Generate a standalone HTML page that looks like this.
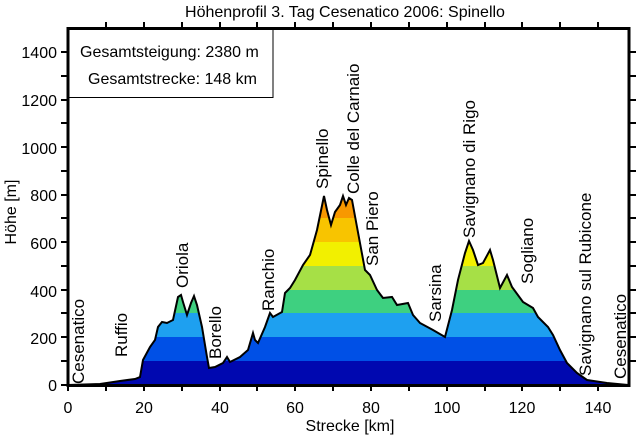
<!DOCTYPE html>
<html><head><meta charset="utf-8"><style>body{margin:0;background:#fff}svg{display:block}text{font-family:"Liberation Sans",Arial,sans-serif;fill:#000}</style></head><body>
<svg width="640" height="437" viewBox="0 0 640 437">
<defs><clipPath id="c"><polygon points="68,385 100,384 120,381 135,379 140,377 143,360 150,347 155,340 158,327 162,322 167,323 173,320 178,297 181,295 183,302 187,315 191,303 194,296 197,305 202,327 207,357 209,368 215,367 223,363 227,357 230,362 240,357 248,350 253,333 255,340 258,343 265,327 270,313 273,317 282,312 285,293 290,288 295,280 303,265 310,255 317,230 324,196 327,210 331,225 335,212 340,205 343,196 346,205 349,198 352,200 357,227 365,270 370,275 377,290 383,298 392,297 397,305 408,303 413,315 420,323 433,330 445,337 452,310 458,280 465,253 469,241 473,250 478,265 483,263 490,250 493,260 500,288 507,275 512,287 523,302 533,308 538,317 548,327 553,335 560,350 567,363 577,373 587,380 607,383 628,385"/></clipPath></defs>
<g clip-path="url(#c)">
<rect x="68" y="361" width="561" height="25" fill="#0008b0"/>
<rect x="68" y="337" width="561" height="24" fill="#0050e6"/>
<rect x="68" y="313" width="561" height="24" fill="#1ea0f0"/>
<rect x="68" y="290" width="561" height="23" fill="#3ed080"/>
<rect x="68" y="266" width="561" height="24" fill="#a6e046"/>
<rect x="68" y="242" width="561" height="24" fill="#f2f000"/>
<rect x="68" y="218" width="561" height="24" fill="#f8c400"/>
<rect x="68" y="180" width="561" height="38" fill="#f89800"/>
</g>
<polyline points="68,385 100,384 120,381 135,379 140,377 143,360 150,347 155,340 158,327 162,322 167,323 173,320 178,297 181,295 183,302 187,315 191,303 194,296 197,305 202,327 207,357 209,368 215,367 223,363 227,357 230,362 240,357 248,350 253,333 255,340 258,343 265,327 270,313 273,317 282,312 285,293 290,288 295,280 303,265 310,255 317,230 324,196 327,210 331,225 335,212 340,205 343,196 346,205 349,198 352,200 357,227 365,270 370,275 377,290 383,298 392,297 397,305 408,303 413,315 420,323 433,330 445,337 452,310 458,280 465,253 469,241 473,250 478,265 483,263 490,250 493,260 500,288 507,275 512,287 523,302 533,308 538,317 548,327 553,335 560,350 567,363 577,373 587,380 607,383 628,385" fill="none" stroke="#000" stroke-width="2"/>
<rect x="68" y="28.5" width="205" height="69" fill="#fff" stroke="#000" stroke-width="1"/>
<text x="80" y="57" font-size="16">Gesamtsteigung: 2380 m</text>
<text x="88" y="84" font-size="16">Gesamtstrecke: 148 km</text>
<rect x="68" y="28.5" width="561" height="357" fill="none" stroke="#000" stroke-width="3"/>
<g stroke="#000" stroke-width="2">
<path d="M68,385v6M106,385v6M144,385v6M182,385v6M220,385v6M257,385v6M295,385v6M333,385v6M371,385v6M409,385v6M447,385v6M485,385v6M522,385v6M560,385v6M598,385v6"/>
<path d="M106,28v-6M144,28v-6M182,28v-6M220,28v-6M257,28v-6M295,28v-6M333,28v-6M371,28v-6M409,28v-6M447,28v-6M485,28v-6M522,28v-6M560,28v-6M598,28v-6"/>
<path d="M68,385h-7M68,361h-7M68,337h-7M68,313h-7M68,290h-7M68,266h-7M68,242h-7M68,218h-7M68,195h-7M68,171h-7M68,147h-7M68,123h-7M68,100h-7M68,76h-7M68,52h-7"/>
<path d="M629,361h7M629,337h7M629,313h7M629,290h7M629,266h7M629,242h7M629,218h7M629,195h7M629,171h7M629,147h7M629,123h7M629,100h7M629,76h7M629,52h7"/>
</g>
<g font-size="16" text-anchor="end">
<text x="57" y="391">0</text><text x="57" y="344">200</text><text x="57" y="297">400</text><text x="57" y="249">600</text><text x="57" y="201">800</text><text x="57" y="154">1000</text><text x="57" y="106">1200</text><text x="57" y="58">1400</text>
</g>
<g font-size="16" text-anchor="middle">
<text x="68" y="413">0</text><text x="144" y="413">20</text><text x="220" y="413">40</text><text x="295" y="413">60</text><text x="371" y="413">80</text><text x="447" y="413">100</text><text x="522" y="413">120</text><text x="598" y="413">140</text>
<text x="350" y="431">Strecke [km]</text>
<text x="345" y="17">Höhenprofil  3. Tag Cesenatico 2006: Spinello</text>
<text transform="translate(16,212) rotate(-90)">Höhe [m]</text>
</g>
<g font-size="17">
<text transform="translate(84,384) rotate(-90)">Cesenatico</text>
<text transform="translate(127,357) rotate(-90)">Ruffio</text>
<text transform="translate(188,288) rotate(-90)">Oriola</text>
<text transform="translate(221,359) rotate(-90)">Borello</text>
<text transform="translate(274,311) rotate(-90)">Ranchio</text>
<text transform="translate(328,189) rotate(-90)">Spinello</text>
<text transform="translate(359,194) rotate(-90)">Colle del Carnaio</text>
<text transform="translate(378,266) rotate(-90)">San Piero</text>
<text transform="translate(441,322) rotate(-90)">Sarsina</text>
<text transform="translate(475,238) rotate(-90)">Savignano di Rigo</text>
<text transform="translate(533,284) rotate(-90)">Sogliano</text>
<text transform="translate(591,376) rotate(-90)">Savignano sul Rubicone</text>
<text transform="translate(626,379) rotate(-90)">Cesenatico</text>
</g>
</svg>
</body></html>
